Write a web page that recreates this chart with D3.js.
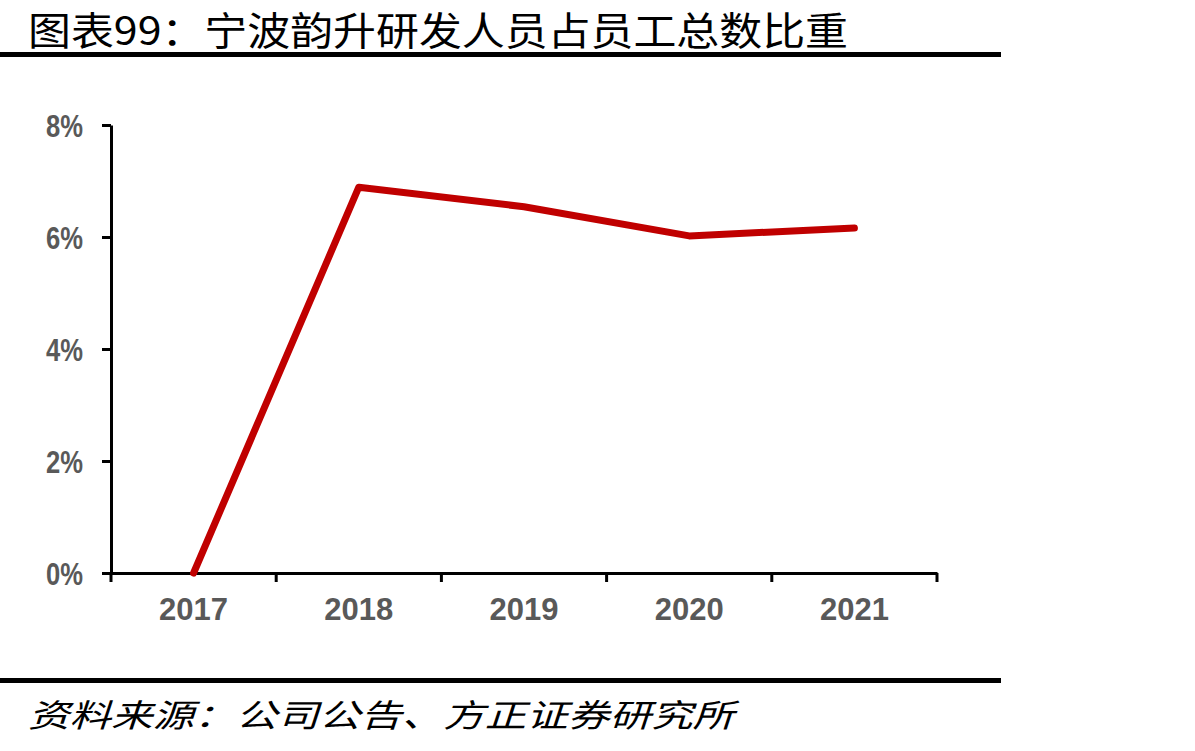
<!DOCTYPE html>
<html><head><meta charset="utf-8">
<script src="https://cdn.jsdelivr.net/npm/d3@7"></script>
<style>body{margin:0;background:#fff;}svg{display:block;}</style>
</head><body>
<svg id="c" width="1195" height="751"></svg>
<script>
const titleText = "图表99：宁波韵升研发人员占员工总数比重";
const sourceText = "资料来源：公司公告、方正证券研究所";
const categories = ["2017","2018","2019","2020","2021"];
const values = [0, 6.89, 6.54, 6.02, 6.16];
const yTicks = [0, 2, 4, 6, 8];

const svg = d3.select("#c");
const W = 1195, H = 751;
svg.append("rect").attr("width", W).attr("height", H).attr("fill", "#fff");

// Title
svg.append("text").attr("x", 28).attr("y", 45)
  .attr("font-family", "'Noto Sans CJK SC'").attr("font-size", 39)
  .attr("textLength", 820).attr("lengthAdjust", "spacingAndGlyphs")
  .attr("fill", "#000").text(titleText);
svg.append("rect").attr("x", 0).attr("y", 52).attr("width", 1001).attr("height", 5).attr("fill", "#000");

// Footer
svg.append("rect").attr("x", 0).attr("y", 678).attr("width", 1001).attr("height", 5).attr("fill", "#000");
svg.append("text").attr("x", 28).attr("y", 727)
  .attr("font-family", "'Noto Sans CJK SC'").attr("font-size", 32).attr("font-style", "italic")
  .attr("textLength", 706).attr("lengthAdjust", "spacingAndGlyphs")
  .attr("fill", "#000").text(sourceText);

const x = d3.scaleBand().domain(categories).range([111, 937]);
const y = d3.scaleLinear().domain([0, 8]).range([573, 125]);

const g = svg.append("g");
// y axis
const ya = g.append("g").attr("transform", "translate(111,0)")
  .call(d3.axisLeft(y).tickValues(yTicks).tickFormat(d => d + "%").tickSize(9).tickSizeOuter(0));
ya.select(".domain").attr("stroke", "#000").attr("stroke-width", 3);
ya.selectAll(".tick line").attr("stroke", "#000").attr("stroke-width", 3);
ya.selectAll(".tick text").attr("x", -28).attr("dy", "0.36em").attr("font-family", "'Liberation Sans', Arial, sans-serif")
  .attr("font-size", 31).attr("font-weight", "bold").attr("fill", "#595959")
  .attr("textLength", 37).attr("lengthAdjust", "spacingAndGlyphs");

// x axis
const xa = g.append("g").attr("transform", "translate(0,573)")
  .call(d3.axisBottom(x).tickSize(0).tickSizeOuter(0));
xa.select(".domain").attr("stroke", "#000").attr("stroke-width", 3);
xa.selectAll(".tick text").attr("y", 25).attr("dy", "0.71em").attr("font-family", "'Liberation Sans', Arial, sans-serif")
  .attr("font-size", 31).attr("font-weight", "bold").attr("fill", "#595959");
// tick marks at band boundaries
const bounds = categories.map(c => x(c)).concat([x.range()[1]]);
g.selectAll(".xt").data(bounds).enter().append("line")
  .attr("x1", d => d).attr("x2", d => d).attr("y1", 573).attr("y2", 582)
  .attr("stroke", "#000").attr("stroke-width", 3);

// line
const line = d3.line().x((d, i) => x(categories[i]) + x.bandwidth() / 2).y(d => y(d));
g.append("path").datum(values).attr("d", line)
  .attr("fill", "none").attr("stroke", "#C00000").attr("stroke-width", 7)
  .attr("stroke-linejoin", "round").attr("stroke-linecap", "round");
</script>
</body></html>
